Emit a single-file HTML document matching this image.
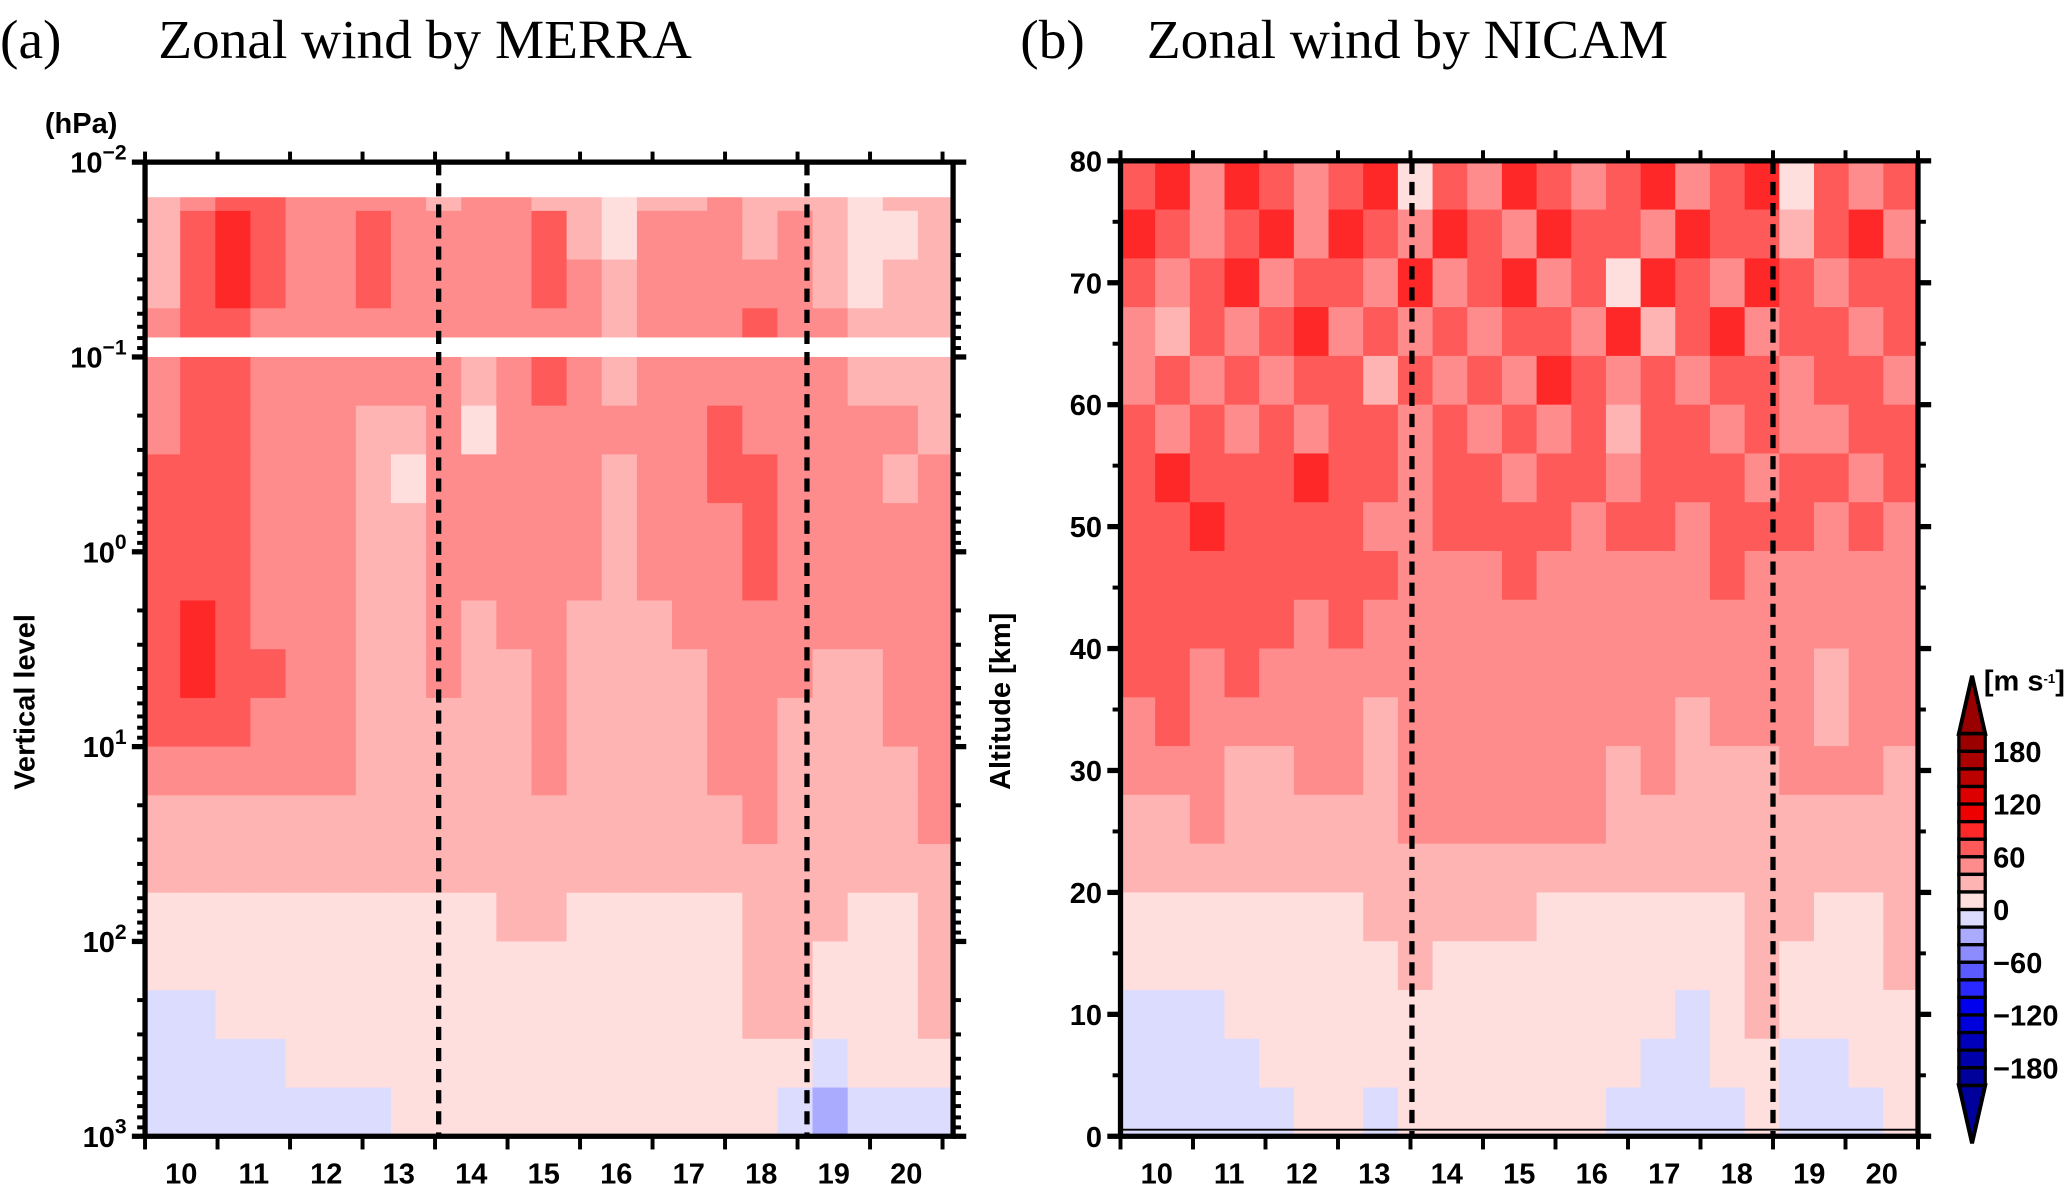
<!DOCTYPE html>
<html><head><meta charset="utf-8"><style>
html,body{margin:0;padding:0;background:#fff;}
svg{display:block;}
.tk{font-family:"Liberation Sans",sans-serif;font-weight:bold;font-size:22px;fill:#000;}
.ttl{font-family:"Liberation Serif",serif;font-size:42px;fill:#000;}
</style></head><body>
<svg id="fig" width="2067" height="1189" viewBox="0 0 1568 902" xmlns="http://www.w3.org/2000/svg">
<text class="ttl" x="0" y="44">(a)</text>
<text class="ttl" x="120" y="44" font-size="40">Zonal wind by MERRA</text>
<text class="ttl" x="774" y="44">(b)</text>
<text class="ttl" x="870" y="44" font-size="40">Zonal wind by NICAM</text>
<g id="pa"></g>
<g id="pb"></g>
<g id="cb"></g>
</svg>
<script>
const binCodes = [-2,-1,1,2,3,4,5,6];
const binColors = ["#aaaaff","#dcdcff","#ffdede","#ffb4b4","#ff8c8c","#ff5a5a","#ff2828","#ee0000"];
const days = [10,11,12,13,14,15,16,17,18,19,20];
const dashedDaysA = [13.55,18.63];
const dashedDaysB = [13.52,18.5];
const pressureTickExp = [-2,-1,0,1,2,3];
const altTicks = [0,10,20,30,40,50,60,70,80];
const cbLabels = [180,120,60,0,-60,-120,-180];
const cbColors = ["#9b0000","#aa0000","#bb0000","#dd0000","#ee0000","#ff2828","#ff5a5a","#ff8c8c","#ffb4b4","#ffdede","#dcdcff","#aaaaff","#8c8cff","#5a5aff","#2828ff","#0000ee","#0000dd","#0000bb","#0000aa","#00009b"];
const merra = [
[2,3,4,4,3,3,3,3,2,3,3,2,2,1,2,2,3,2,2,2,1,2,2],
[2,4,5,4,3,3,4,3,3,3,3,4,2,1,3,3,3,2,3,2,1,1,2],
[2,4,5,4,3,3,4,3,3,3,3,4,3,2,3,3,3,3,3,2,1,2,2],
[3,4,4,3,3,3,3,3,3,3,3,3,3,2,3,3,3,4,3,3,2,2,2],
[3,4,4,3,3,3,3,3,3,2,3,4,3,2,3,3,3,3,3,3,2,2,2],
[3,4,4,3,3,3,2,2,3,1,3,3,3,3,3,3,4,3,3,3,3,3,2],
[4,4,4,3,3,3,2,1,3,3,3,3,3,2,3,3,4,4,3,3,3,2,3],
[4,4,4,3,3,3,2,2,3,3,3,3,3,2,3,3,3,4,3,3,3,3,3],
[4,4,4,3,3,3,2,2,3,3,3,3,3,2,3,3,3,4,3,3,3,3,3],
[4,5,4,3,3,3,2,2,3,2,3,3,2,2,2,3,3,3,3,3,3,3,3],
[4,5,4,4,3,3,2,2,3,2,2,3,2,2,2,2,3,3,3,2,2,3,3],
[4,4,4,3,3,3,2,2,2,2,2,3,2,2,2,2,3,3,2,2,2,3,3],
[3,3,3,3,3,3,2,2,2,2,2,3,2,2,2,2,3,3,2,2,2,2,3],
[2,2,2,2,2,2,2,2,2,2,2,2,2,2,2,2,2,3,2,2,2,2,3],
[2,2,2,2,2,2,2,2,2,2,2,2,2,2,2,2,2,2,2,2,2,2,2],
[1,1,1,1,1,1,1,1,1,1,2,2,1,1,1,1,1,2,2,2,1,1,2],
[1,1,1,1,1,1,1,1,1,1,1,1,1,1,1,1,1,2,2,1,1,1,2],
[-1,-1,1,1,1,1,1,1,1,1,1,1,1,1,1,1,1,2,2,1,1,1,2],
[-1,-1,-1,-1,1,1,1,1,1,1,1,1,1,1,1,1,1,1,1,-1,1,1,1],
[-1,-1,-1,-1,-1,-1,-1,1,1,1,1,1,1,1,1,1,1,1,-1,-2,-1,-1,-1]];
const nicam = [
[4,5,3,5,4,3,4,5,1,4,3,5,4,3,4,5,3,4,5,1,4,3,4],
[5,4,3,4,5,3,5,4,3,5,4,3,5,4,4,3,5,4,4,2,4,5,3],
[4,3,4,5,3,4,4,3,5,3,4,5,3,4,1,5,4,3,5,4,3,4,4],
[3,2,4,3,4,5,3,4,3,4,3,4,4,3,5,2,4,5,3,4,4,3,4],
[3,4,3,4,3,4,4,2,4,3,4,3,5,4,3,4,3,4,4,3,4,4,3],
[4,3,4,3,4,3,4,4,3,4,3,4,3,4,2,4,4,3,4,3,3,4,4],
[4,5,4,4,4,5,4,4,3,4,4,3,4,4,3,4,4,4,3,4,4,3,4],
[4,4,5,4,4,4,4,3,3,4,4,4,4,3,4,4,3,4,4,4,3,4,3],
[4,4,4,4,4,4,4,4,3,3,3,4,3,3,3,3,3,4,3,3,3,3,3],
[4,4,4,4,4,3,4,3,3,3,3,3,3,3,3,3,3,3,3,3,3,3,3],
[4,4,3,4,3,3,3,3,3,3,3,3,3,3,3,3,3,3,3,3,2,3,3],
[3,4,3,3,3,3,3,2,3,3,3,3,3,3,3,3,2,3,3,3,2,3,3],
[3,3,3,2,2,3,3,2,3,3,3,3,3,3,2,3,2,2,2,3,3,3,2],
[2,2,3,2,2,2,2,2,3,3,3,3,3,3,2,2,2,2,2,2,2,2,2],
[2,2,2,2,2,2,2,2,2,2,2,2,2,2,2,2,2,2,2,2,2,2,2],
[1,1,1,1,1,1,1,2,2,2,2,2,1,1,1,1,1,1,2,2,1,1,2],
[1,1,1,1,1,1,1,1,2,1,1,1,1,1,1,1,1,1,2,1,1,1,2],
[-1,-1,-1,1,1,1,1,1,1,1,1,1,1,1,1,1,-1,1,2,1,1,1,1],
[-1,-1,-1,-1,1,1,1,1,1,1,1,1,1,1,1,-1,-1,1,1,-1,-1,1,1],
[-1,-1,-1,-1,-1,1,1,-1,1,1,1,1,1,1,-1,-1,-1,-1,1,-1,-1,-1,1]];

const NS="http://www.w3.org/2000/svg";
function mk(parent,tag,attrs){const e=document.createElementNS(NS,tag);for(const k in attrs)e.setAttribute(k,attrs[k]);parent.appendChild(e);return e;}
function col(c){return binColors[binCodes.indexOf(c)];}

function panel(g,L,R,T,B,grid,yTicks,yLab,dashed,isA){
  const xDay=d=>L+(d-9.5)*55;
  const nr=grid.length,nc=grid[0].length,ch=(B-T)/nr,cw=(R-L)/nc;
  grid.forEach((row,i)=>row.forEach((v,j)=>{
    const r=mk(g,'rect',{x:L+j*cw,y:T+i*ch,width:cw+0.6,height:ch+0.6,fill:col(v)});
    
    
  }));
  if(isA){
    const yP=e=>T+(e+2)*(B-T)/5;
    const w1=mk(g,'rect',{x:L,y:T,width:R-L,height:yP(-1.82)-T,fill:'#fff'});
    
    
    const w2=mk(g,'rect',{x:L,y:yP(-1.1),width:R-L,height:yP(-1)-yP(-1.1),fill:'#fff'});
    
    
  } else {
    const w=mk(g,'line',{x1:L,x2:R,y1:B-5,y2:B-5,stroke:'#000','stroke-width':1.5});
    
    
  }
  dashed.forEach(d=>{
    const l=mk(g,'line',{x1:xDay(d),x2:xDay(d),y1:T,y2:B,stroke:'#000','stroke-width':4,'stroke-dasharray':'10,6'});
    
    
  });
  const fr=mk(g,'rect',{x:L,y:T,width:R-L,height:B-T,fill:'none',stroke:'#000','stroke-width':4});
  
  
  for(let k=0;k<=11;k++){
    const x=L+k*55; if(x>R+1)break;
    mk(g,'line',{x1:x,x2:x,y1:B,y2:B+10,stroke:'#000','stroke-width':3});
    mk(g,'line',{x1:x,x2:x,y1:T,y2:T-8,stroke:'#000','stroke-width':3});
  }
  days.forEach(d=>{
    const t=mk(g,'text',{x:xDay(d),y:B+36,'text-anchor':'middle',class:'tk'});t.textContent=d;
    
    
  });
  yTicks.forEach(tk=>{
    mk(g,'line',{x1:L-10,x2:L,y1:tk.y,y2:tk.y,stroke:'#000','stroke-width':4});
    mk(g,'line',{x1:R,x2:R+10,y1:tk.y,y2:tk.y,stroke:'#000','stroke-width':4});
    const t=mk(g,'text',{x:L-14,y:tk.y+8,'text-anchor':'end',class:'tk'});
    if(tk.exp!==undefined){t.textContent='10';const s=mk(t,'tspan',{dy:-10,'font-size':16});s.textContent=tk.exp;}
    else t.textContent=tk.label;
    
    
  });
  const yl=mk(g,'text',{x:0,y:0,class:'tk','font-weight':'normal','font-size':26,'text-anchor':'middle',transform:`translate(${L-84},${(T+B)/2+40}) rotate(-90)`});
  yl.textContent=yLab;
  
  
}
const aL=110,aR=723,aT=123,aB=862;
const aTicks=pressureTickExp.map(e=>({y:aT+(e+2)*(aB-aT)/5,exp:e<0?'\u2212'+String(-e):String(e)}));
panel(document.getElementById('pa'),aL,aR,aT,aB,merra,aTicks,'Vertical level',dashedDaysA,true);
const ga=document.getElementById('pa');
for(let e=-2;e<3;e++)for(let m=2;m<=9;m++){
  const y=aT+(e+2+Math.log10(m))*(aB-aT)/5;
  mk(ga,'line',{x1:aL-6,x2:aL,y1:y,y2:y,stroke:'#000','stroke-width':3});
  mk(ga,'line',{x1:aR,x2:aR+6,y1:y,y2:y,stroke:'#000','stroke-width':3});
}
const hpa=mk(ga,'text',{x:34,y:101,class:'tk','font-size':17});hpa.textContent='(hPa)';


const bL=850,bR=1455,bT=122,bB=862;
const bTicks=altTicks.map(a=>({y:bB-a*(bB-bT)/80,label:a}));
panel(document.getElementById('pb'),bL,bR,bT,bB,nicam,bTicks,'Altitude [km]',dashedDaysB,false);
const gb=document.getElementById('pb');
for(let a=5;a<80;a+=10){const y=bB-a*(bB-bT)/80;
  mk(gb,'line',{x1:bL-6,x2:bL,y1:y,y2:y,stroke:'#000','stroke-width':3});
  mk(gb,'line',{x1:bR,x2:bR+6,y1:y,y2:y,stroke:'#000','stroke-width':3});}
const cb=document.getElementById('cb');
const cx=1486,cw2=20,yv=v=>690-v*(120/180);
mk(cb,'polygon',{points:`${cx},${yv(200)} ${cx+cw2},${yv(200)} ${cx+cw2/2},${yv(200)-44}`,fill:'#9b0000',stroke:'#000','stroke-width':3});
mk(cb,'polygon',{points:`${cx},${yv(-200)} ${cx+cw2},${yv(-200)} ${cx+cw2/2},${yv(-200)+44}`,fill:'#00009b',stroke:'#000','stroke-width':3});
cbColors.forEach((c,i)=>{
  const r=mk(cb,'rect',{x:cx,y:yv(200-i*20),width:cw2,height:yv(0)-yv(20),fill:c,stroke:'#000','stroke-width':2.5});
  
  
});
cbLabels.forEach(v=>{
  const t=mk(cb,'text',{x:1512,y:yv(v)+8,class:'tk','font-size':21});t.textContent=v<0?'\u2212'+(-v):v;
  
  
});
const u=mk(cb,'text',{x:1505,y:524,class:'tk','font-size':15});u.textContent='[m s';
const us=mk(u,'tspan',{dy:-6,'font-size':10});us.textContent='-1';
const ue=mk(u,'tspan',{dy:6});ue.textContent=']';


</script>
</body></html>
